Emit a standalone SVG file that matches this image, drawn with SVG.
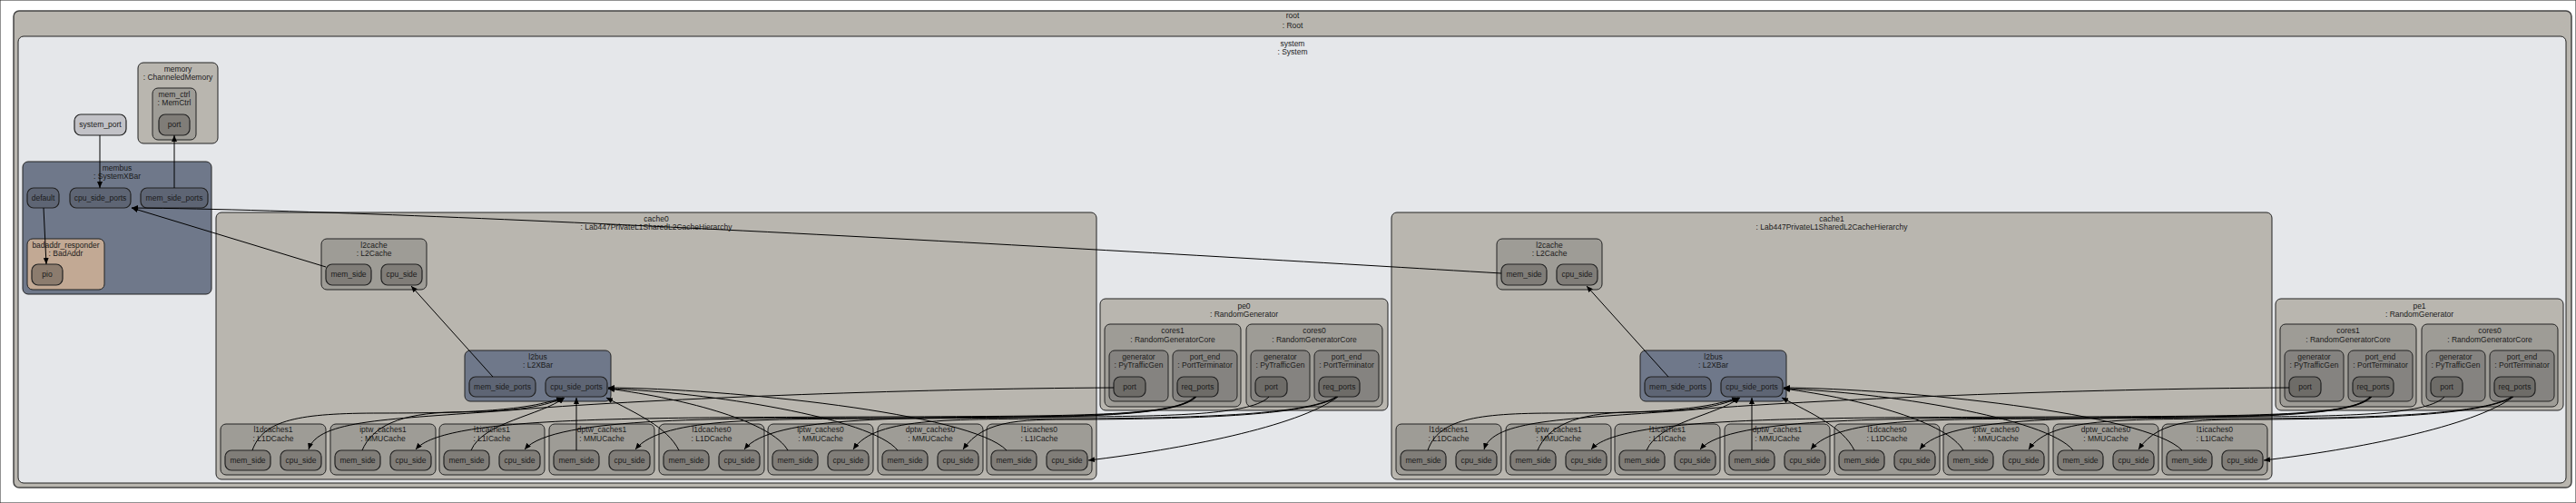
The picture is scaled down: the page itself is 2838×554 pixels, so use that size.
<svg xmlns="http://www.w3.org/2000/svg" width="2838" height="554" viewBox="0 0 2838 554">
<defs>
<style>
.t{font-family:"Liberation Sans",Arial,sans-serif;font-size:8.5px;fill:#1a1a1a;text-anchor:middle}
rect{stroke:#222;stroke-width:1}
.root{fill:#b9b6af;stroke:#444;stroke-width:1.5}
.sys{fill:#e5e7ea;stroke:#222}
.c1{fill:#b9b6af}
.c2{fill:#9e9c96}
.c3{fill:#858380}
.p2{fill:#807d78;stroke-width:1.2}
.p3{fill:#6e6c68;stroke-width:1.2}
.bus{fill:#6f788a}
.busp{fill:#5e6574;stroke-width:1.2}
.bad{fill:#c2a994}
.badp{fill:#8c7c6e;stroke-width:1.2}
.sp{fill:#c2c2c7;stroke-width:1.2}
.e{fill:none;stroke:#000;stroke-width:1;marker-end:url(#arr)}
</style>
<marker id="arr" markerWidth="8" markerHeight="6" refX="7" refY="3" orient="auto" markerUnits="userSpaceOnUse"><path d="M0,0 L7,3 L0,6 z" fill="#000"/></marker>
</defs>
<rect width="2838" height="554" fill="#ffffff" stroke="none"/>
<g id="root">
<rect class="root" x="15" y="12" width="2818" height="525" rx="6"/>
<text class="t" x="1424" y="20">root</text>
<text class="t" x="1424" y="31">: Root</text>
</g>
<g id="system">
<rect class="sys" x="20" y="40" width="2807" height="492" rx="6"/>
<text class="t" x="1424" y="51">system</text>
<text class="t" x="1424" y="59.5">: System</text>
</g>
<g id="memory">
<rect class="c1" x="152" y="69" width="88" height="89" rx="6"/>
<text class="t" x="196" y="79">memory</text>
<text class="t" x="196" y="88">: ChanneledMemory</text>
<g id="mem_ctrl">
<rect class="c2" x="168" y="97" width="48" height="57" rx="6"/>
<text class="t" x="192" y="107">mem_ctrl</text>
<text class="t" x="192" y="116">: MemCtrl</text>
<g id="mem_ctrl_port"><rect class="p2" x="175" y="126" width="34" height="23" rx="7"/><text class="t" x="192" y="140">port</text></g>
</g>
</g>
<g id="system_port"><rect class="sp" x="82" y="126" width="57" height="23" rx="7"/><text class="t" x="110.5" y="140">system_port</text></g>
<g id="membus">
<rect class="bus" x="25" y="178" width="208" height="146" rx="6"/>
<text class="t" x="129" y="188">membus</text>
<text class="t" x="129" y="197">: SystemXBar</text>
<g id="membus_default"><rect class="busp" x="30" y="207" width="35" height="22" rx="7"/><text class="t" x="47.5" y="221">default</text></g>
<g id="membus_cpu_side_ports"><rect class="busp" x="77" y="207" width="67" height="22" rx="7"/><text class="t" x="110.5" y="221">cpu_side_ports</text></g>
<g id="membus_mem_side_ports"><rect class="busp" x="155" y="207" width="74" height="22" rx="7"/><text class="t" x="192" y="221">mem_side_ports</text></g>
<g id="badaddr_responder">
<rect class="bad" x="30" y="263" width="85" height="56" rx="6"/>
<text class="t" x="72.5" y="273">badaddr_responder</text>
<text class="t" x="72.5" y="282">: BadAddr</text>
<g id="badaddr_pio"><rect class="badp" x="35" y="291" width="34" height="23" rx="7"/><text class="t" x="52" y="305">pio</text></g>
</g>
</g>

<g id="cache0">
<rect class="c1" x="238" y="234" width="970" height="294" rx="6"/>
<text class="t" x="723" y="244">cache0</text>
<text class="t" x="723" y="253">: Lab447PrivateL1SharedL2CacheHierarchy</text>
<g id="cache0_l2cache">
<rect class="c2" x="354" y="263" width="116" height="56" rx="6"/>
<text class="t" x="412" y="273">l2cache</text>
<text class="t" x="412" y="282">: L2Cache</text>
<g id="cache0_l2cache_mem_side"><rect class="p2" x="359" y="291" width="50" height="23" rx="7"/><text class="t" x="384" y="305">mem_side</text></g>
<g id="cache0_l2cache_cpu_side"><rect class="p2" x="420" y="291" width="45" height="23" rx="7"/><text class="t" x="442.5" y="305">cpu_side</text></g>
</g>
<g id="cache0_l2bus">
<rect class="bus" x="512" y="386" width="161" height="56" rx="6"/>
<text class="t" x="592.5" y="396">l2bus</text>
<text class="t" x="592.5" y="405">: L2XBar</text>
<g id="cache0_l2bus_mem_side_ports"><rect class="busp" x="517" y="415" width="73" height="22" rx="7"/><text class="t" x="553.5" y="429">mem_side_ports</text></g>
<g id="cache0_l2bus_cpu_side_ports"><rect class="busp" x="601" y="415" width="68" height="22" rx="7"/><text class="t" x="635" y="429">cpu_side_ports</text></g>
</g>
<g id="cache0_l1dcaches1"><rect class="c2" x="243" y="467" width="116" height="56" rx="6"/><text class="t" x="301" y="476">l1dcaches1</text><text class="t" x="301" y="485.5">: L1DCache</text>
<g id="cache0_l1dcaches1_mem_side"><rect class="p2" x="248" y="496" width="50" height="22" rx="7"/><text class="t" x="273" y="510">mem_side</text></g>
<g id="cache0_l1dcaches1_cpu_side"><rect class="p2" x="309" y="496" width="45" height="22" rx="7"/><text class="t" x="331.5" y="510">cpu_side</text></g></g>
<g id="cache0_iptw_caches1"><rect class="c2" x="364" y="467" width="116" height="56" rx="6"/><text class="t" x="422" y="476">iptw_caches1</text><text class="t" x="422" y="485.5">: MMUCache</text>
<g id="cache0_iptw_caches1_mem_side"><rect class="p2" x="369" y="496" width="50" height="22" rx="7"/><text class="t" x="394" y="510">mem_side</text></g>
<g id="cache0_iptw_caches1_cpu_side"><rect class="p2" x="430" y="496" width="45" height="22" rx="7"/><text class="t" x="452.5" y="510">cpu_side</text></g></g>
<g id="cache0_l1icaches1"><rect class="c2" x="484" y="467" width="116" height="56" rx="6"/><text class="t" x="542" y="476">l1icaches1</text><text class="t" x="542" y="485.5">: L1ICache</text>
<g id="cache0_l1icaches1_mem_side"><rect class="p2" x="489" y="496" width="50" height="22" rx="7"/><text class="t" x="514" y="510">mem_side</text></g>
<g id="cache0_l1icaches1_cpu_side"><rect class="p2" x="550" y="496" width="45" height="22" rx="7"/><text class="t" x="572.5" y="510">cpu_side</text></g></g>
<g id="cache0_dptw_caches1"><rect class="c2" x="605" y="467" width="116" height="56" rx="6"/><text class="t" x="663" y="476">dptw_caches1</text><text class="t" x="663" y="485.5">: MMUCache</text>
<g id="cache0_dptw_caches1_mem_side"><rect class="p2" x="610" y="496" width="50" height="22" rx="7"/><text class="t" x="635" y="510">mem_side</text></g>
<g id="cache0_dptw_caches1_cpu_side"><rect class="p2" x="671" y="496" width="45" height="22" rx="7"/><text class="t" x="693.5" y="510">cpu_side</text></g></g>
<g id="cache0_l1dcaches0"><rect class="c2" x="726" y="467" width="116" height="56" rx="6"/><text class="t" x="784" y="476">l1dcaches0</text><text class="t" x="784" y="485.5">: L1DCache</text>
<g id="cache0_l1dcaches0_mem_side"><rect class="p2" x="731" y="496" width="50" height="22" rx="7"/><text class="t" x="756" y="510">mem_side</text></g>
<g id="cache0_l1dcaches0_cpu_side"><rect class="p2" x="792" y="496" width="45" height="22" rx="7"/><text class="t" x="814.5" y="510">cpu_side</text></g></g>
<g id="cache0_iptw_caches0"><rect class="c2" x="846" y="467" width="116" height="56" rx="6"/><text class="t" x="904" y="476">iptw_caches0</text><text class="t" x="904" y="485.5">: MMUCache</text>
<g id="cache0_iptw_caches0_mem_side"><rect class="p2" x="851" y="496" width="50" height="22" rx="7"/><text class="t" x="876" y="510">mem_side</text></g>
<g id="cache0_iptw_caches0_cpu_side"><rect class="p2" x="912" y="496" width="45" height="22" rx="7"/><text class="t" x="934.5" y="510">cpu_side</text></g></g>
<g id="cache0_dptw_caches0"><rect class="c2" x="967" y="467" width="116" height="56" rx="6"/><text class="t" x="1025" y="476">dptw_caches0</text><text class="t" x="1025" y="485.5">: MMUCache</text>
<g id="cache0_dptw_caches0_mem_side"><rect class="p2" x="972" y="496" width="50" height="22" rx="7"/><text class="t" x="997" y="510">mem_side</text></g>
<g id="cache0_dptw_caches0_cpu_side"><rect class="p2" x="1033" y="496" width="45" height="22" rx="7"/><text class="t" x="1055.5" y="510">cpu_side</text></g></g>
<g id="cache0_l1icaches0"><rect class="c2" x="1087" y="467" width="116" height="56" rx="6"/><text class="t" x="1145" y="476">l1icaches0</text><text class="t" x="1145" y="485.5">: L1ICache</text>
<g id="cache0_l1icaches0_mem_side"><rect class="p2" x="1092" y="496" width="50" height="22" rx="7"/><text class="t" x="1117" y="510">mem_side</text></g>
<g id="cache0_l1icaches0_cpu_side"><rect class="p2" x="1153" y="496" width="45" height="22" rx="7"/><text class="t" x="1175.5" y="510">cpu_side</text></g></g>
</g>

<g id="pe0">
<rect class="c1" x="1212" y="329" width="317" height="123" rx="6"/>
<text class="t" x="1370.5" y="340">pe0</text>
<text class="t" x="1370.5" y="348.5">: RandomGenerator</text>
<g id="pe0_cores1"><rect class="c2" x="1217" y="357" width="150" height="91" rx="6"/><text class="t" x="1292" y="367">cores1</text><text class="t" x="1292" y="377">: RandomGeneratorCore</text>
<g id="pe0_cores1_generator"><rect class="c3" x="1222" y="386" width="65" height="56" rx="6"/><text class="t" x="1254.5" y="396">generator</text><text class="t" x="1254.5" y="405">: PyTrafficGen</text>
<g id="pe0_cores1_generator_port"><rect class="p3" x="1227" y="415" width="35" height="22" rx="7"/><text class="t" x="1244.5" y="429">port</text></g></g>
<g id="pe0_cores1_port_end"><rect class="c3" x="1292" y="386" width="71" height="56" rx="6"/><text class="t" x="1327.5" y="396">port_end</text><text class="t" x="1327.5" y="405">: PortTerminator</text>
<g id="pe0_cores1_port_end_req_ports"><rect class="p3" x="1297" y="415" width="45" height="22" rx="7"/><text class="t" x="1319.5" y="429">req_ports</text></g></g>
</g>
<g id="pe0_cores0"><rect class="c2" x="1373" y="357" width="150" height="91" rx="6"/><text class="t" x="1448" y="367">cores0</text><text class="t" x="1448" y="377">: RandomGeneratorCore</text>
<g id="pe0_cores0_generator"><rect class="c3" x="1378" y="386" width="65" height="56" rx="6"/><text class="t" x="1410.5" y="396">generator</text><text class="t" x="1410.5" y="405">: PyTrafficGen</text>
<g id="pe0_cores0_generator_port"><rect class="p3" x="1383" y="415" width="35" height="22" rx="7"/><text class="t" x="1400.5" y="429">port</text></g></g>
<g id="pe0_cores0_port_end"><rect class="c3" x="1448" y="386" width="71" height="56" rx="6"/><text class="t" x="1483.5" y="396">port_end</text><text class="t" x="1483.5" y="405">: PortTerminator</text>
<g id="pe0_cores0_port_end_req_ports"><rect class="p3" x="1453" y="415" width="45" height="22" rx="7"/><text class="t" x="1475.5" y="429">req_ports</text></g></g>
</g>
</g>

<g transform="translate(1295,0)">
<g id="cache1">
<rect class="c1" x="238" y="234" width="970" height="294" rx="6"/>
<text class="t" x="723" y="244">cache1</text>
<text class="t" x="723" y="253">: Lab447PrivateL1SharedL2CacheHierarchy</text>
<g id="cache1_l2cache">
<rect class="c2" x="354" y="263" width="116" height="56" rx="6"/>
<text class="t" x="412" y="273">l2cache</text>
<text class="t" x="412" y="282">: L2Cache</text>
<g id="cache1_l2cache_mem_side"><rect class="p2" x="359" y="291" width="50" height="23" rx="7"/><text class="t" x="384" y="305">mem_side</text></g>
<g id="cache1_l2cache_cpu_side"><rect class="p2" x="420" y="291" width="45" height="23" rx="7"/><text class="t" x="442.5" y="305">cpu_side</text></g>
</g>
<g id="cache1_l2bus">
<rect class="bus" x="512" y="386" width="161" height="56" rx="6"/>
<text class="t" x="592.5" y="396">l2bus</text>
<text class="t" x="592.5" y="405">: L2XBar</text>
<g id="cache1_l2bus_mem_side_ports"><rect class="busp" x="517" y="415" width="73" height="22" rx="7"/><text class="t" x="553.5" y="429">mem_side_ports</text></g>
<g id="cache1_l2bus_cpu_side_ports"><rect class="busp" x="601" y="415" width="68" height="22" rx="7"/><text class="t" x="635" y="429">cpu_side_ports</text></g>
</g>
<g id="cache1_l1dcaches1"><rect class="c2" x="243" y="467" width="116" height="56" rx="6"/><text class="t" x="301" y="476">l1dcaches1</text><text class="t" x="301" y="485.5">: L1DCache</text>
<g id="cache1_l1dcaches1_mem_side"><rect class="p2" x="248" y="496" width="50" height="22" rx="7"/><text class="t" x="273" y="510">mem_side</text></g>
<g id="cache1_l1dcaches1_cpu_side"><rect class="p2" x="309" y="496" width="45" height="22" rx="7"/><text class="t" x="331.5" y="510">cpu_side</text></g></g>
<g id="cache1_iptw_caches1"><rect class="c2" x="364" y="467" width="116" height="56" rx="6"/><text class="t" x="422" y="476">iptw_caches1</text><text class="t" x="422" y="485.5">: MMUCache</text>
<g id="cache1_iptw_caches1_mem_side"><rect class="p2" x="369" y="496" width="50" height="22" rx="7"/><text class="t" x="394" y="510">mem_side</text></g>
<g id="cache1_iptw_caches1_cpu_side"><rect class="p2" x="430" y="496" width="45" height="22" rx="7"/><text class="t" x="452.5" y="510">cpu_side</text></g></g>
<g id="cache1_l1icaches1"><rect class="c2" x="484" y="467" width="116" height="56" rx="6"/><text class="t" x="542" y="476">l1icaches1</text><text class="t" x="542" y="485.5">: L1ICache</text>
<g id="cache1_l1icaches1_mem_side"><rect class="p2" x="489" y="496" width="50" height="22" rx="7"/><text class="t" x="514" y="510">mem_side</text></g>
<g id="cache1_l1icaches1_cpu_side"><rect class="p2" x="550" y="496" width="45" height="22" rx="7"/><text class="t" x="572.5" y="510">cpu_side</text></g></g>
<g id="cache1_dptw_caches1"><rect class="c2" x="605" y="467" width="116" height="56" rx="6"/><text class="t" x="663" y="476">dptw_caches1</text><text class="t" x="663" y="485.5">: MMUCache</text>
<g id="cache1_dptw_caches1_mem_side"><rect class="p2" x="610" y="496" width="50" height="22" rx="7"/><text class="t" x="635" y="510">mem_side</text></g>
<g id="cache1_dptw_caches1_cpu_side"><rect class="p2" x="671" y="496" width="45" height="22" rx="7"/><text class="t" x="693.5" y="510">cpu_side</text></g></g>
<g id="cache1_l1dcaches0"><rect class="c2" x="726" y="467" width="116" height="56" rx="6"/><text class="t" x="784" y="476">l1dcaches0</text><text class="t" x="784" y="485.5">: L1DCache</text>
<g id="cache1_l1dcaches0_mem_side"><rect class="p2" x="731" y="496" width="50" height="22" rx="7"/><text class="t" x="756" y="510">mem_side</text></g>
<g id="cache1_l1dcaches0_cpu_side"><rect class="p2" x="792" y="496" width="45" height="22" rx="7"/><text class="t" x="814.5" y="510">cpu_side</text></g></g>
<g id="cache1_iptw_caches0"><rect class="c2" x="846" y="467" width="116" height="56" rx="6"/><text class="t" x="904" y="476">iptw_caches0</text><text class="t" x="904" y="485.5">: MMUCache</text>
<g id="cache1_iptw_caches0_mem_side"><rect class="p2" x="851" y="496" width="50" height="22" rx="7"/><text class="t" x="876" y="510">mem_side</text></g>
<g id="cache1_iptw_caches0_cpu_side"><rect class="p2" x="912" y="496" width="45" height="22" rx="7"/><text class="t" x="934.5" y="510">cpu_side</text></g></g>
<g id="cache1_dptw_caches0"><rect class="c2" x="967" y="467" width="116" height="56" rx="6"/><text class="t" x="1025" y="476">dptw_caches0</text><text class="t" x="1025" y="485.5">: MMUCache</text>
<g id="cache1_dptw_caches0_mem_side"><rect class="p2" x="972" y="496" width="50" height="22" rx="7"/><text class="t" x="997" y="510">mem_side</text></g>
<g id="cache1_dptw_caches0_cpu_side"><rect class="p2" x="1033" y="496" width="45" height="22" rx="7"/><text class="t" x="1055.5" y="510">cpu_side</text></g></g>
<g id="cache1_l1icaches0"><rect class="c2" x="1087" y="467" width="116" height="56" rx="6"/><text class="t" x="1145" y="476">l1icaches0</text><text class="t" x="1145" y="485.5">: L1ICache</text>
<g id="cache1_l1icaches0_mem_side"><rect class="p2" x="1092" y="496" width="50" height="22" rx="7"/><text class="t" x="1117" y="510">mem_side</text></g>
<g id="cache1_l1icaches0_cpu_side"><rect class="p2" x="1153" y="496" width="45" height="22" rx="7"/><text class="t" x="1175.5" y="510">cpu_side</text></g></g>
</g>
<g id="pe1">
<rect class="c1" x="1212" y="329" width="317" height="123" rx="6"/>
<text class="t" x="1370.5" y="340">pe1</text>
<text class="t" x="1370.5" y="348.5">: RandomGenerator</text>
<g id="pe1_cores1"><rect class="c2" x="1217" y="357" width="150" height="91" rx="6"/><text class="t" x="1292" y="367">cores1</text><text class="t" x="1292" y="377">: RandomGeneratorCore</text>
<g id="pe1_cores1_generator"><rect class="c3" x="1222" y="386" width="65" height="56" rx="6"/><text class="t" x="1254.5" y="396">generator</text><text class="t" x="1254.5" y="405">: PyTrafficGen</text>
<g id="pe1_cores1_generator_port"><rect class="p3" x="1227" y="415" width="35" height="22" rx="7"/><text class="t" x="1244.5" y="429">port</text></g></g>
<g id="pe1_cores1_port_end"><rect class="c3" x="1292" y="386" width="71" height="56" rx="6"/><text class="t" x="1327.5" y="396">port_end</text><text class="t" x="1327.5" y="405">: PortTerminator</text>
<g id="pe1_cores1_port_end_req_ports"><rect class="p3" x="1297" y="415" width="45" height="22" rx="7"/><text class="t" x="1319.5" y="429">req_ports</text></g></g>
</g>
<g id="pe1_cores0"><rect class="c2" x="1373" y="357" width="150" height="91" rx="6"/><text class="t" x="1448" y="367">cores0</text><text class="t" x="1448" y="377">: RandomGeneratorCore</text>
<g id="pe1_cores0_generator"><rect class="c3" x="1378" y="386" width="65" height="56" rx="6"/><text class="t" x="1410.5" y="396">generator</text><text class="t" x="1410.5" y="405">: PyTrafficGen</text>
<g id="pe1_cores0_generator_port"><rect class="p3" x="1383" y="415" width="35" height="22" rx="7"/><text class="t" x="1400.5" y="429">port</text></g></g>
<g id="pe1_cores0_port_end"><rect class="c3" x="1448" y="386" width="71" height="56" rx="6"/><text class="t" x="1483.5" y="396">port_end</text><text class="t" x="1483.5" y="405">: PortTerminator</text>
<g id="pe1_cores0_port_end_req_ports"><rect class="p3" x="1453" y="415" width="45" height="22" rx="7"/><text class="t" x="1475.5" y="429">req_ports</text></g></g>
</g>
</g>
</g>

<g id="connectors">
<path class="e" d="M110,149 L110,207"/>
<path class="e" d="M192,207 L192,149"/>
<path class="e" d="M48,229 L51,291"/>
<path class="e" d="M359,294 L145,229"/>
<path class="e" d="M1654,301 C1300,280 500,232 145,229"/>
<g id="connectors_half0">
<path class="e" d="M543,415 L453,315"/>
<path class="e" d="M278,496 C290,462 330,455 420,455 C520,455 580,452 620,438"/>
<path class="e" d="M399,496 C410,470 440,455 500,454 C560,453 595,450 621,438"/>
<path class="e" d="M519,496 C532,465 595,458 622,438"/>
<path class="e" d="M635,496 L635,438"/>
<path class="e" d="M748,496 C735,470 700,455 668,438"/>
<path class="e" d="M868,496 C850,465 760,440 670,428"/>
<path class="e" d="M989,496 C960,460 780,432 670,428"/>
<path class="e" d="M1109,496 C1070,455 800,428 670,427"/>
<path class="e" d="M1227,427 C1000,428 700,440 560,452 C430,462 350,462 340,495"/>
<path class="e" d="M1316,437 C1296,458 1200,458 1000,459 C700,460 490,458 458,495"/>
<path class="e" d="M1317,437 C1297,458 1200,459 1000,460 C800,461 610,458 578,495"/>
<path class="e" d="M1318,437 C1298,458 1200,460 1000,461 C850,462 730,458 700,495"/>
<path class="e" d="M1398,437 C1380,456 1300,458 1200,459 C1000,460 850,457 820,495"/>
<path class="e" d="M1472,437 C1440,458 1300,460 1200,461 C1050,462 965,458 940,495"/>
<path class="e" d="M1473,437 C1440,459 1300,461 1200,462 C1130,462 1085,460 1061,495"/>
<path class="e" d="M1474,437 C1430,470 1300,495 1199,507"/>
</g>
<g id="connectors_half1" transform="translate(1295,0)">
<path class="e" d="M543,415 L453,315"/>
<path class="e" d="M278,496 C290,462 330,455 420,455 C520,455 580,452 620,438"/>
<path class="e" d="M399,496 C410,470 440,455 500,454 C560,453 595,450 621,438"/>
<path class="e" d="M519,496 C532,465 595,458 622,438"/>
<path class="e" d="M635,496 L635,438"/>
<path class="e" d="M748,496 C735,470 700,455 668,438"/>
<path class="e" d="M868,496 C850,465 760,440 670,428"/>
<path class="e" d="M989,496 C960,460 780,432 670,428"/>
<path class="e" d="M1109,496 C1070,455 800,428 670,427"/>
<path class="e" d="M1227,427 C1000,428 700,440 560,452 C430,462 350,462 340,495"/>
<path class="e" d="M1316,437 C1296,458 1200,458 1000,459 C700,460 490,458 458,495"/>
<path class="e" d="M1317,437 C1297,458 1200,459 1000,460 C800,461 610,458 578,495"/>
<path class="e" d="M1318,437 C1298,458 1200,460 1000,461 C850,462 730,458 700,495"/>
<path class="e" d="M1398,437 C1380,456 1300,458 1200,459 C1000,460 850,457 820,495"/>
<path class="e" d="M1472,437 C1440,458 1300,460 1200,461 C1050,462 965,458 940,495"/>
<path class="e" d="M1473,437 C1440,459 1300,461 1200,462 C1130,462 1085,460 1061,495"/>
<path class="e" d="M1474,437 C1430,470 1300,495 1199,507"/>
</g>
</g>
</svg>
